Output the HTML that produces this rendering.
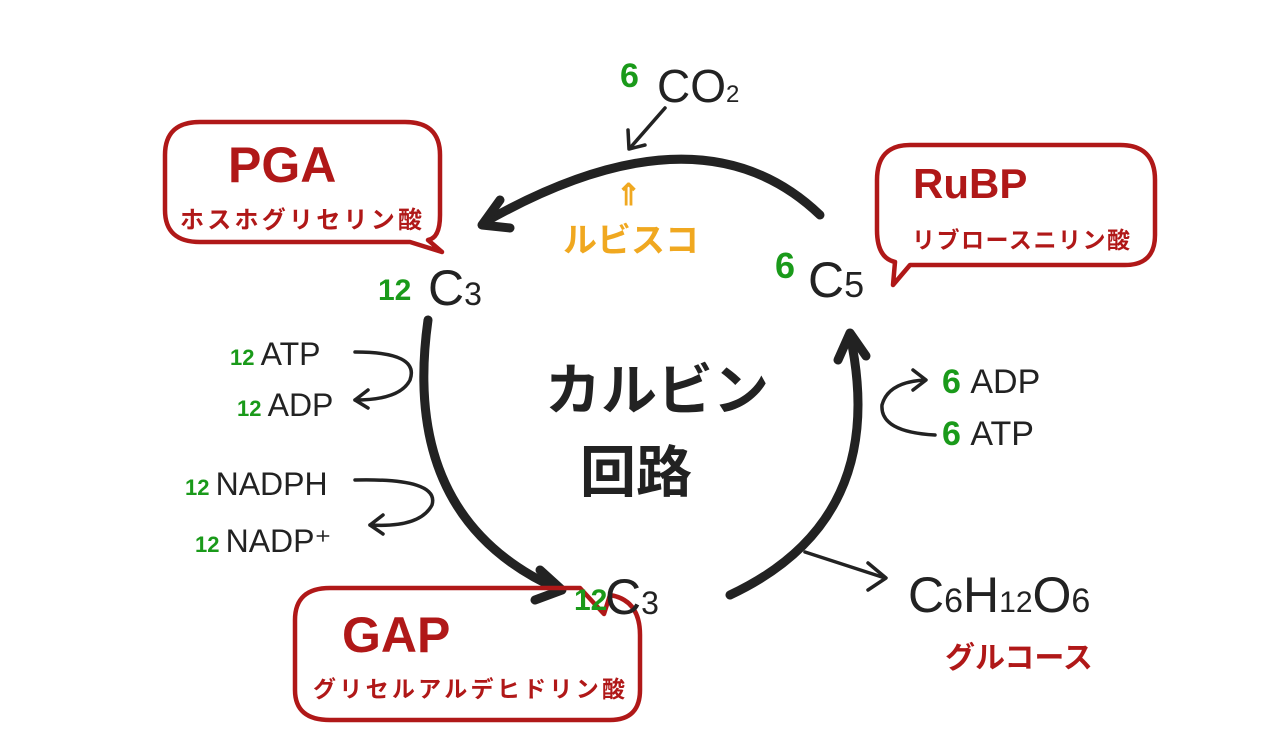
<!DOCTYPE html>
<html><head><meta charset="utf-8"><style>
html,body{margin:0;padding:0;background:#fff;}
svg{display:block}
text{font-family:"Liberation Sans","Noto Sans CJK JP",sans-serif;}
.k{fill:#222}
.g{fill:#1a9a1a;font-weight:bold}
.r{fill:#b01818;font-weight:bold}
.o{fill:#f0a820;font-weight:bold}
</style></head><body>
<svg width="1280" height="741" viewBox="0 0 1280 741" xmlns="http://www.w3.org/2000/svg">
<g fill="none" stroke="#222" stroke-linecap="round" stroke-linejoin="round">
<path d="M820 215 Q700 100 485 222" stroke-width="9"/>
<path d="M500 200 L482 225 L510 228" stroke-width="9"/>
<path d="M428 320 Q400 520 560 590" stroke-width="9"/>
<path d="M540 570 L562 590 L535 600" stroke-width="9"/>
<path d="M730 595 Q890 520 850 335" stroke-width="9"/>
<path d="M838 360 L850 333 L866 356" stroke-width="9"/>
<path d="M665 108 L630 148" stroke-width="3.5"/>
<path d="M628 130 L629 149 L645 145" stroke-width="3.5"/>
<path d="M805 552 L885 578" stroke-width="3.5"/>
<path d="M868 563 L886 578 L868 590" stroke-width="3.5"/>
<path d="M355 352 Q420 352 410 380 Q400 400 355 400" stroke-width="3.5"/>
<path d="M368 390 L355 400 L368 408" stroke-width="3.5"/>
<path d="M355 480 Q440 478 432 505 Q420 528 370 525" stroke-width="3.5"/>
<path d="M383 515 L370 525 L383 534" stroke-width="3.5"/>
<path d="M935 435 Q880 432 882 405 Q888 382 925 380" stroke-width="3.5"/>
<path d="M913 370 L926 380 L913 390" stroke-width="3.5"/>
</g>
<g fill="none" stroke="#b01818" stroke-width="4.5" stroke-linejoin="round">
<path d="M200 122 L405 122 Q440 122 440 155 L440 215 Q440 238 428 240 L442 252 L410 242 L200 242 Q165 242 165 210 L165 155 Q165 122 200 122 Z"/>
<path d="M910 145 L1120 145 Q1155 145 1155 180 L1155 235 Q1155 265 1125 265 L910 265 L893 285 L895 262 Q877 258 877 230 L877 180 Q877 145 910 145 Z"/>
<path d="M330 588 L580 588 L604 614 L610 595 Q640 600 640 635 L640 690 Q640 720 610 720 L330 720 Q295 720 295 690 L295 620 Q295 588 330 588 Z"/>
</g>
<text x="620" y="87" class="g" font-size="34">6</text>
<text x="657" y="102" class="k" font-size="46">CO<tspan font-size="24">2</tspan></text>
<text x="616" y="205" class="o" font-size="30">⇑</text>
<text x="563" y="252" class="o" font-size="34">ルビスコ</text>
<text x="228" y="182" class="r" font-size="50">PGA</text>
<text x="180" y="228" class="r" font-size="24" textLength="242">ホスホグリセリン酸</text>
<text x="913" y="198" class="r" font-size="42">RuBP</text>
<text x="912" y="248" class="r" font-size="23" textLength="218">リブロースニリン酸</text>
<text x="342" y="652" class="r" font-size="50">GAP</text>
<text x="313" y="697" class="r" font-size="23" textLength="312">グリセルアルデヒドリン酸</text>
<text x="378" y="300" class="g" font-size="30">12</text>
<text x="428" y="305" class="k" font-size="50">C<tspan font-size="32">3</tspan></text>
<text x="775" y="278" class="g" font-size="36">6</text>
<text x="808" y="297" class="k" font-size="50">C<tspan font-size="36">5</tspan></text>
<text x="574" y="610" class="g" font-size="30">12</text>
<text x="605" y="614" class="k" font-size="50">C<tspan font-size="32">3</tspan></text>
<text x="230" y="365" font-size="32"><tspan class="g" font-size="22">12 </tspan><tspan class="k">ATP</tspan></text>
<text x="237" y="416" font-size="32"><tspan class="g" font-size="22">12 </tspan><tspan class="k">ADP</tspan></text>
<text x="185" y="495" font-size="32"><tspan class="g" font-size="22">12 </tspan><tspan class="k">NADPH</tspan></text>
<text x="195" y="552" font-size="32"><tspan class="g" font-size="22">12 </tspan><tspan class="k">NADP⁺</tspan></text>
<text x="942" y="393" font-size="34"><tspan class="g">6 </tspan><tspan class="k">ADP</tspan></text>
<text x="942" y="445" font-size="34"><tspan class="g">6 </tspan><tspan class="k">ATP</tspan></text>
<text x="545" y="410" class="k" font-size="56" font-weight="bold">カルビン</text>
<text x="580" y="492" class="k" font-size="56" font-weight="bold">回路</text>
<text x="908" y="612" class="k" font-size="50">C<tspan font-size="34">6</tspan>H<tspan font-size="30">12</tspan>O<tspan font-size="34">6</tspan></text>
<text x="945" y="668" class="r" font-size="30">グルコース</text>
</svg>
</body></html>
